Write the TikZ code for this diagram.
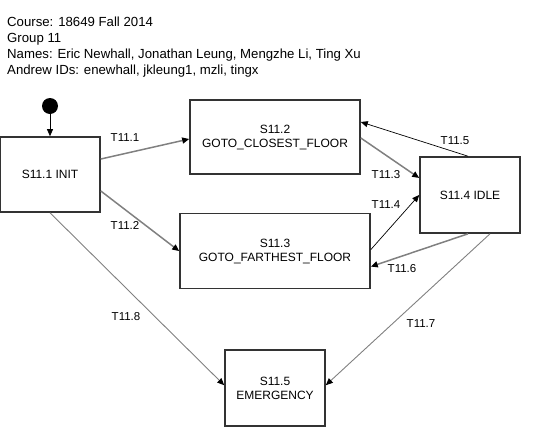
\documentclass[tikz,border=0pt]{standalone}
\usepackage{fontspec}
\setmainfont{Liberation Sans}
\usetikzlibrary{positioning,arrows.meta}

\tikzset{
  state/.style={draw=black!80, line width=1.6pt, fill=white, align=center,
    inner sep=2pt, font=\fontsize{12}{14}\selectfont},
  initial/.style={circle, fill=black, minimum size=16pt, inner sep=0pt},
  lbl/.style={inner sep=0pt, font=\fontsize{11.5}{13}\selectfont},
  tip/.style={-{Triangle[length=7pt,width=6pt,color=black]}},
  tgray/.style={tip, draw=gray, line width=1.5pt},
  tgraythin/.style={tip, draw=gray, line width=0.9pt},
  tblack/.style={tip, draw=black, line width=0.7pt},
}

\begin{document}
\begin{tikzpicture}[x=1pt,y=-1pt]
  \useasboundingbox (0,0) rectangle (548,442);

  % Header
  \node[anchor=north west, align=left, inner sep=0pt,
    font=\fontsize{13.2}{16}\selectfont] (hdr) at (7,17)
    {Course: 18649 Fall 2014\\Group 11\\Names: Eric Newhall, Jonathan Leung, Mengzhe Li, Ting Xu\\Andrew IDs: enewhall, jkleung1, mzli, tingx};

  % Define nodes
  \node[state, minimum width=100pt, minimum height=75pt] (init) at (50,174.5) {S11.1 INIT};
  \node[initial, above=22pt of init] (start) {};
  \node[state, minimum width=170pt, minimum height=74pt] (close) at (275,137) {S11.2\\GOTO\_CLOSEST\_FLOOR};
  \node[state, minimum width=190pt, minimum height=75pt, below=38pt of close] (far) {S11.3\\GOTO\_FARTHEST\_FLOOR};
  \node[state, minimum width=100pt, minimum height=76pt] (idle) at (470,195) {S11.4 IDLE};
  \node[state, minimum width=100pt, minimum height=76pt, below=60pt of far] (emerg) {S11.5\\EMERGENCY};

  % Connect the nodes
  \draw[tblack] (start) -- (init);
  \draw[tgray] ([yshift=15.5pt]init.east) -- ([yshift=-2pt]close.west);
  \draw[tgray] ([yshift=-16.5pt]init.east) -- (far.west);
  \draw[tgray] ([yshift=-1pt]close.east) -- ([yshift=17pt]idle.west);
  \draw[tblack] ([yshift=1.5pt]far.east) -- (idle.west);
  \draw[tblack] ([xshift=-2pt]idle.north) -- ([yshift=15pt]close.east);
  \draw[tgray] ([xshift=-2pt]idle.south) -- ([yshift=-15.5pt]far.east);
  \draw[tgraythin] ([xshift=20pt]idle.south) -- ([yshift=3pt]emerg.east);
  \draw[tgraythin] (init.south) -- ([yshift=3pt]emerg.west);

  % Edge labels
  \node[lbl] (l1) at (125,138) {T11.1};
  \node[lbl] (l2) at (125,225) {T11.2};
  \node[lbl] (l3) at (386,175) {T11.3};
  \node[lbl] (l4) at (386,205) {T11.4};
  \node[lbl] (l5) at (455,141) {T11.5};
  \node[lbl] (l6) at (402,269) {T11.6};
  \node[lbl] (l7) at (421,324) {T11.7};
  \node[lbl] (l8) at (126,317) {T11.8};
\end{tikzpicture}
\end{document}
